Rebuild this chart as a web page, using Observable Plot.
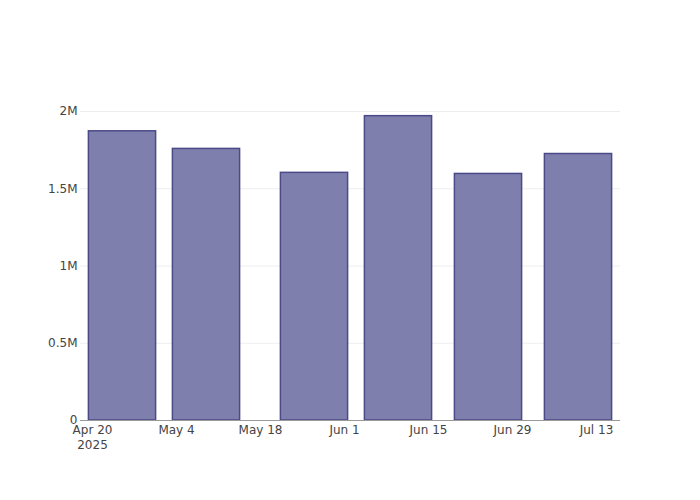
<!DOCTYPE html>
<html>
<head>
<meta charset="utf-8">
<script src="https://cdn.jsdelivr.net/npm/d3@7"></script>
<script src="https://cdn.jsdelivr.net/npm/@observablehq/plot@0.6"></script>
<style>
  html, body { margin: 0; padding: 0; background: #fff; }
  #chart { width: 700px; height: 500px; }
</style>
</head>
<body>
<div id="chart"></div>
<script>
const dates = ["2025-04-25", "2025-05-09", "2025-05-27", "2025-06-10", "2025-06-25", "2025-07-10"];
const values = [1872000, 1758000, 1603000, 1970000, 1596000, 1725000];
const xTicks = ["2025-04-20", "2025-05-04", "2025-05-18", "2025-06-01", "2025-06-15", "2025-06-29", "2025-07-13"];
const yTicks = [0, 500000, 1000000, 1500000, 2000000];
const yTickLabels = ["0", "0.5M", "1M", "1.5M", "2M"];

const data = dates.map((d, i) => ({date: new Date(d + "T00:00:00Z"), value: values[i]}));
const halfWidth = 0.4 * 14 * 24 * 3600 * 1000; // 0.8 of the smallest gap
const tickDates = xTicks.map(d => new Date(d + "T00:00:00Z"));
const fmt = d3.utcFormat("%b %-d");

const chart = Plot.plot({
  width: 700,
  height: 500,
  marginLeft: 80,
  marginRight: 80,
  marginTop: 100,
  marginBottom: 80,
  style: {fontFamily: "DejaVu Sans", fontSize: "12px", color: "#444", background: "#fff"},
  x: {
    type: "utc",
    domain: [new Date("2025-04-18T00:00:00Z"), new Date("2025-07-17T00:00:00Z")],
    label: null
  },
  y: {
    domain: [0, 2071400],
    label: null
  },
  marks: [
    Plot.gridY(yTicks.slice(1), {stroke: "#eee", strokeOpacity: 1, strokeWidth: 1}),
    Plot.rectY(data, {
      x1: d => new Date(d.date.getTime() - halfWidth),
      x2: d => new Date(d.date.getTime() + halfWidth),
      y1: 0,
      y2: "value",
      fill: "#7f7fae",
      stroke: "#4a4a88",
      strokeWidth: 1.5
    }),
    Plot.ruleY([0], {stroke: "#999", strokeWidth: 1}),
    Plot.axisX(tickDates, {
      tickSize: 0,
      tickPadding: 2,
      lineHeight: 1.3,
      tickFormat: (d, i) => i === 0 ? fmt(d) + "\n" + d.getUTCFullYear() : fmt(d),
      fill: "#444",
      fontSize: 12,
      label: null
    }),
    Plot.axisY(yTicks, {
      tickSize: 0,
      tickPadding: 3,
      tickFormat: (d, i) => yTickLabels[i],
      fill: "#444",
      fontSize: 12,
      label: null
    })
  ]
});
document.getElementById("chart").appendChild(chart);
</script>
</body>
</html>
